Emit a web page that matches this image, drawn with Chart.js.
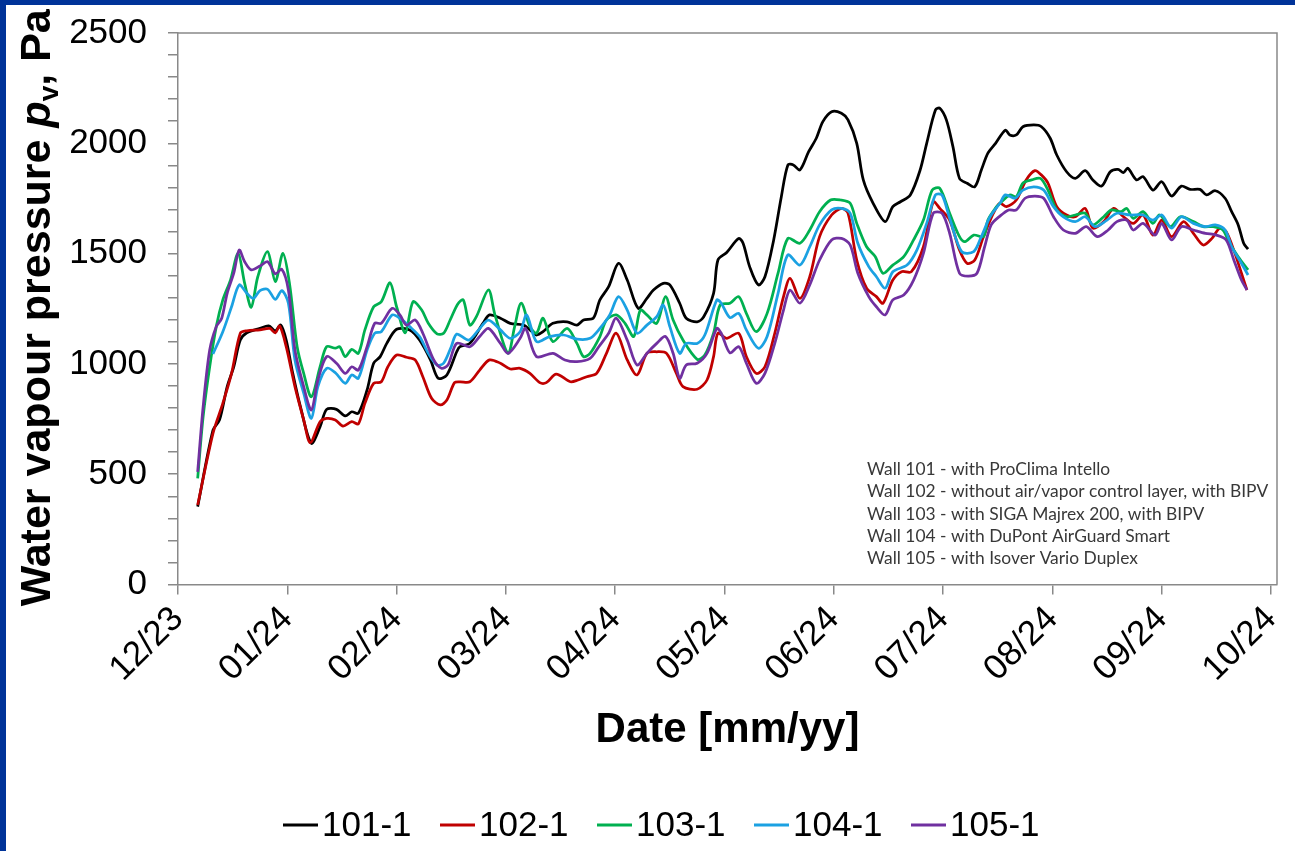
<!DOCTYPE html>
<html>
<head>
<meta charset="utf-8">
<script src="https://cdn.jsdelivr.net/npm/chart.js@4"></script>
<style>
  html, body { margin: 0; padding: 0; background: #fff; }
  #mainchart { display: block; }
</style>
</head>
<body>
<canvas id="mainchart" width="1295" height="851"></canvas>
<script>
// x positions are months since 1 Dec 2023 (the axis has equally spaced month ticks)
const monthLabels = ["12/23", "01/24", "02/24", "03/24", "04/24", "05/24", "06/24", "07/24", "08/24", "09/24", "10/24"];
const yTickLabels = [0, 500, 1000, 1500, 2000, 2500];
const seriesNames = ["101-1", "102-1", "103-1", "104-1", "105-1"];
const seriesColors = ["#000000", "#c00000", "#00b050", "#1ba1e2", "#7030a0"];
const wallNotes = [
  "Wall 101 - with ProClima Intello",
  "Wall 102 - without air/vapor control layer, with BIPV",
  "Wall 103 - with SIGA Majrex 200, with BIPV",
  "Wall 104 - with DuPont AirGuard Smart",
  "Wall 105 - with Isover Vario Duplex",
];

const wall101 = [
  [0.18, 353], [0.32, 700], [0.38, 746], [0.45, 897], [0.51, 987], [0.57, 1108], [0.63, 1141], [0.75, 1161],
  [0.83, 1172], [0.89, 1150], [0.94, 1176], [0.99, 1108], [1.05, 957], [1.12, 806], [1.22, 640], [1.30, 715],
  [1.36, 794], [1.45, 794], [1.53, 764], [1.59, 783], [1.65, 776], [1.73, 882], [1.79, 1003], [1.85, 1033],
  [1.91, 1093], [2.00, 1157], [2.12, 1154], [2.21, 1108], [2.31, 1018], [2.38, 935], [2.46, 950], [2.55, 1055],
  [2.58, 1078], [2.67, 1093], [2.79, 1184], [2.85, 1222], [2.95, 1207], [3.04, 1184], [3.16, 1176], [3.24, 1146],
  [3.28, 1131], [3.34, 1146], [3.43, 1184], [3.56, 1191], [3.65, 1176], [3.71, 1199], [3.80, 1207], [3.86, 1290],
  [3.94, 1350], [4.03, 1456], [4.11, 1380], [4.21, 1252], [4.29, 1297], [4.35, 1335], [4.44, 1365], [4.50, 1358],
  [4.59, 1275], [4.65, 1207], [4.75, 1191], [4.81, 1214], [4.90, 1320], [4.94, 1471], [5.02, 1505], [5.13, 1569],
  [5.17, 1547], [5.23, 1441], [5.31, 1358], [5.37, 1395], [5.45, 1562], [5.52, 1758], [5.58, 1902], [5.63, 1902],
  [5.69, 1879], [5.77, 1962], [5.84, 2023], [5.90, 2098], [5.98, 2143], [6.07, 2136], [6.13, 2106], [6.21, 2000],
  [6.27, 1834], [6.36, 1728], [6.47, 1645], [6.54, 1713], [6.61, 1735], [6.70, 1766], [6.79, 1879], [6.85, 2000],
  [6.93, 2151], [6.97, 2159], [7.03, 2106], [7.09, 1985], [7.15, 1841], [7.22, 1819], [7.29, 1803], [7.35, 1879],
  [7.41, 1955], [7.48, 2000], [7.57, 2060], [7.61, 2038], [7.67, 2038], [7.73, 2075], [7.83, 2083], [7.90, 2075],
  [7.98, 2023], [8.04, 1947], [8.13, 1871], [8.21, 1841], [8.30, 1876], [8.37, 1834], [8.45, 1806], [8.53, 1871],
  [8.60, 1882], [8.65, 1867], [8.69, 1887], [8.77, 1834], [8.83, 1849], [8.92, 1788], [9.00, 1826], [9.09, 1761],
  [9.18, 1806], [9.26, 1791], [9.35, 1791], [9.41, 1766], [9.49, 1785], [9.58, 1751], [9.64, 1690], [9.70, 1630],
  [9.75, 1547], [9.79, 1520],
];
const wall102 = [
  [0.18, 360], [0.32, 685], [0.41, 821], [0.49, 957], [0.57, 1139], [0.63, 1150], [0.75, 1154], [0.84, 1161],
  [0.89, 1141], [0.93, 1172], [0.99, 1078], [1.07, 897], [1.15, 746], [1.21, 643], [1.30, 738], [1.36, 753],
  [1.44, 746], [1.51, 718], [1.59, 738], [1.65, 728], [1.71, 821], [1.79, 912], [1.86, 919], [1.92, 987],
  [2.00, 1040], [2.09, 1030], [2.17, 1018], [2.24, 942], [2.32, 844], [2.40, 814], [2.46, 836], [2.53, 915],
  [2.58, 919], [2.67, 919], [2.76, 972], [2.85, 1018], [2.95, 1003], [3.04, 977], [3.13, 980], [3.22, 957],
  [3.31, 915], [3.37, 915], [3.46, 954], [3.59, 919], [3.66, 927], [3.74, 942], [3.83, 957], [3.92, 1048],
  [4.01, 1139], [4.11, 1018], [4.20, 950], [4.29, 1048], [4.38, 1055], [4.47, 1048], [4.56, 957], [4.62, 897],
  [4.75, 885], [4.84, 927], [4.90, 1033], [4.94, 1139], [5.02, 1116], [5.13, 1139], [5.20, 1033], [5.29, 957],
  [5.37, 987], [5.46, 1139], [5.54, 1305], [5.60, 1388], [5.69, 1297], [5.78, 1395], [5.87, 1577], [5.98, 1675],
  [6.07, 1705], [6.13, 1683], [6.21, 1471], [6.30, 1343], [6.39, 1305], [6.45, 1275], [6.54, 1380], [6.62, 1418],
  [6.71, 1418], [6.82, 1531], [6.91, 1735], [6.97, 1705], [7.06, 1652], [7.15, 1516], [7.22, 1456], [7.29, 1471],
  [7.37, 1577], [7.46, 1683], [7.52, 1728], [7.58, 1713], [7.67, 1743], [7.76, 1834], [7.84, 1876], [7.90, 1856],
  [7.96, 1819], [8.04, 1713], [8.13, 1675], [8.21, 1667], [8.30, 1705], [8.37, 1615], [8.47, 1645], [8.56, 1705],
  [8.65, 1667], [8.74, 1637], [8.83, 1675], [8.92, 1584], [9.00, 1652], [9.09, 1577], [9.20, 1645], [9.29, 1592],
  [9.38, 1539], [9.46, 1569], [9.53, 1615], [9.59, 1599], [9.67, 1501], [9.73, 1411], [9.78, 1335],
];
const wall103 = [
  [0.18, 481], [0.23, 761], [0.29, 987], [0.35, 1169], [0.41, 1290], [0.48, 1380], [0.55, 1501], [0.61, 1365],
  [0.67, 1257], [0.73, 1395], [0.82, 1509], [0.89, 1373], [0.96, 1501], [1.02, 1365], [1.09, 1078], [1.15, 957],
  [1.22, 851], [1.30, 987], [1.36, 1078], [1.44, 1071], [1.48, 1078], [1.53, 1033], [1.59, 1066], [1.65, 1048],
  [1.71, 1154], [1.79, 1259], [1.86, 1282], [1.94, 1368], [2.00, 1259], [2.08, 1141], [2.15, 1282], [2.23, 1244],
  [2.29, 1184], [2.37, 1136], [2.43, 1139], [2.49, 1199], [2.56, 1272], [2.61, 1290], [2.67, 1176], [2.73, 1214],
  [2.84, 1335], [2.90, 1222], [3.02, 1048], [3.08, 1169], [3.14, 1275], [3.22, 1169], [3.28, 1139], [3.34, 1207],
  [3.43, 1101], [3.56, 1161], [3.65, 1093], [3.71, 1033], [3.77, 1048], [3.86, 1124], [3.92, 1199], [4.01, 1222],
  [4.09, 1184], [4.17, 1124], [4.23, 1244], [4.29, 1222], [4.38, 1184], [4.46, 1305], [4.53, 1199], [4.62, 1108],
  [4.75, 1021], [4.82, 1040], [4.90, 1139], [4.96, 1267], [5.05, 1275], [5.13, 1305], [5.20, 1229], [5.29, 1146],
  [5.39, 1229], [5.49, 1411], [5.58, 1569], [5.69, 1547], [5.78, 1607], [5.87, 1690], [5.97, 1743], [6.06, 1743],
  [6.15, 1728], [6.21, 1637], [6.30, 1531], [6.38, 1486], [6.45, 1411], [6.54, 1448], [6.64, 1486], [6.73, 1562],
  [6.82, 1652], [6.90, 1788], [6.97, 1796], [7.06, 1683], [7.15, 1577], [7.20, 1554], [7.28, 1584], [7.37, 1577],
  [7.41, 1652], [7.49, 1713], [7.52, 1728], [7.61, 1766], [7.67, 1758], [7.73, 1819], [7.81, 1834], [7.89, 1841],
  [7.96, 1788], [8.04, 1698], [8.13, 1667], [8.21, 1675], [8.30, 1683], [8.37, 1630], [8.47, 1667], [8.54, 1698],
  [8.63, 1690], [8.68, 1705], [8.74, 1660], [8.83, 1690], [8.92, 1637], [8.98, 1675], [9.08, 1622], [9.17, 1667],
  [9.29, 1645], [9.38, 1622], [9.47, 1622], [9.56, 1607], [9.62, 1547], [9.70, 1486], [9.79, 1426],
];
const wall104 = [
  [0.32, 1045], [0.41, 1146], [0.49, 1259], [0.56, 1358], [0.63, 1320], [0.69, 1297], [0.75, 1332], [0.82, 1338],
  [0.89, 1293], [0.95, 1332], [1.01, 1275], [1.07, 1018], [1.15, 867], [1.22, 753], [1.28, 897], [1.36, 980],
  [1.44, 960], [1.53, 912], [1.59, 950], [1.65, 935], [1.73, 1063], [1.80, 1139], [1.86, 1146], [1.96, 1222],
  [2.03, 1207], [2.12, 1169], [2.21, 1124], [2.29, 1048], [2.37, 995], [2.43, 1003], [2.50, 1078], [2.55, 1135],
  [2.66, 1108], [2.75, 1154], [2.84, 1199], [2.95, 1154], [3.04, 1116], [3.13, 1146], [3.19, 1222], [3.28, 1101],
  [3.40, 1124], [3.53, 1131], [3.65, 1112], [3.77, 1116], [3.86, 1161], [3.95, 1222], [4.03, 1305], [4.11, 1244],
  [4.20, 1139], [4.29, 1176], [4.38, 1214], [4.44, 1267], [4.50, 1169], [4.59, 1048], [4.65, 1093], [4.75, 1093],
  [4.82, 1131], [4.93, 1290], [4.97, 1275], [5.05, 1210], [5.13, 1229], [5.20, 1154], [5.31, 1071], [5.39, 1124],
  [5.49, 1320], [5.58, 1494], [5.69, 1448], [5.78, 1531], [5.87, 1630], [5.98, 1698], [6.07, 1705], [6.15, 1683],
  [6.22, 1547], [6.32, 1441], [6.39, 1395], [6.47, 1343], [6.54, 1418], [6.67, 1448], [6.76, 1516], [6.85, 1637],
  [6.93, 1766], [6.99, 1766], [7.06, 1660], [7.17, 1509], [7.28, 1509], [7.35, 1577], [7.43, 1667], [7.52, 1728],
  [7.57, 1766], [7.66, 1751], [7.73, 1788], [7.83, 1803], [7.92, 1788], [8.01, 1713], [8.10, 1667], [8.21, 1645],
  [8.30, 1667], [8.39, 1622], [8.50, 1652], [8.59, 1683], [8.71, 1675], [8.83, 1675], [8.92, 1652], [9.00, 1675],
  [9.09, 1615], [9.18, 1667], [9.29, 1637], [9.40, 1622], [9.49, 1630], [9.58, 1607], [9.64, 1531], [9.72, 1464],
  [9.79, 1403],
];
const wall105 = [
  [0.18, 511], [0.23, 806], [0.29, 1063], [0.35, 1169], [0.40, 1207], [0.45, 1320], [0.51, 1411], [0.56, 1516],
  [0.61, 1463], [0.67, 1426], [0.75, 1444], [0.82, 1463], [0.89, 1408], [0.95, 1429], [1.01, 1335], [1.07, 1063],
  [1.15, 897], [1.22, 791], [1.28, 927], [1.36, 1033], [1.45, 1003], [1.53, 957], [1.59, 987], [1.65, 972],
  [1.73, 1078], [1.80, 1184], [1.86, 1184], [1.96, 1252], [2.03, 1222], [2.09, 1176], [2.17, 1199], [2.24, 1139],
  [2.34, 1018], [2.41, 980], [2.47, 995], [2.55, 1093], [2.67, 1078], [2.76, 1124], [2.84, 1161], [2.95, 1093],
  [3.02, 1048], [3.13, 1116], [3.18, 1161], [3.28, 1033], [3.43, 1048], [3.54, 1018], [3.65, 1010], [3.77, 1025],
  [3.85, 1078], [3.94, 1139], [4.01, 1207], [4.11, 1108], [4.20, 995], [4.29, 1048], [4.38, 1093], [4.46, 1124],
  [4.53, 1048], [4.59, 935], [4.65, 995], [4.75, 1003], [4.84, 1048], [4.93, 1161], [4.97, 1139], [5.05, 1050],
  [5.13, 1078], [5.20, 1003], [5.29, 912], [5.37, 957], [5.46, 1093], [5.54, 1244], [5.60, 1335], [5.69, 1275],
  [5.78, 1358], [5.87, 1471], [5.98, 1562], [6.07, 1569], [6.15, 1539], [6.22, 1411], [6.32, 1305], [6.39, 1259],
  [6.47, 1222], [6.54, 1290], [6.64, 1312], [6.73, 1380], [6.82, 1501], [6.91, 1683], [6.99, 1683], [7.06, 1592],
  [7.15, 1411], [7.23, 1398], [7.31, 1411], [7.38, 1531], [7.44, 1630], [7.52, 1670], [7.60, 1698], [7.67, 1698],
  [7.75, 1751], [7.84, 1761], [7.92, 1751], [8.01, 1667], [8.10, 1607], [8.21, 1592], [8.31, 1622], [8.41, 1577],
  [8.51, 1607], [8.59, 1645], [8.68, 1652], [8.74, 1607], [8.83, 1637], [8.94, 1584], [9.00, 1637], [9.09, 1562],
  [9.18, 1622], [9.29, 1607], [9.40, 1592], [9.50, 1584], [9.59, 1562], [9.66, 1471], [9.73, 1380], [9.78, 1335],
];
const seriesData = [wall101, wall102, wall103, wall104, wall105];

const ctx = document.getElementById("mainchart").getContext("2d");
const fontFamily = "'Liberation Sans', Arial, sans-serif";
const axisColor = "#898989";
const frameColor = "#003399";

function drawYTitle(c, x, y) {
  // rotated title with italic p and subscript v
  const parts = [
    { text: "Water vapour pressure ", font: "bold 43px " + fontFamily, dy: 0 },
    { text: "p", font: "italic bold 43px " + fontFamily, dy: 0 },
    { text: "v", font: "bold 28px " + fontFamily, dy: 8 },
    { text: ", Pa", font: "bold 43px " + fontFamily, dy: 0 },
  ];
  let total = 0;
  parts.forEach((p) => {
    c.font = p.font;
    p.width = c.measureText(p.text).width;
    total += p.width;
  });
  c.save();
  c.translate(x, y);
  c.rotate(-Math.PI / 2);
  c.textAlign = "left";
  c.textBaseline = "alphabetic";
  c.fillStyle = "#000";
  let pos = -total / 2;
  parts.forEach((p) => {
    c.font = p.font;
    c.fillText(p.text, pos, p.dy);
    pos += p.width;
  });
  c.restore();
}

const decorPlugin = {
  id: "decor",
  beforeDraw(chart) {
    const c = chart.ctx;
    c.save();
    c.fillStyle = "#ffffff";
    c.fillRect(0, 0, chart.width, chart.height);
    c.fillStyle = frameColor;
    c.fillRect(0, 0, chart.width, 5);
    c.fillRect(0, 0, 6, chart.height);
    c.restore();
  },
  afterDraw(chart) {
    const c = chart.ctx;
    const a = chart.chartArea;
    c.save();
    c.strokeStyle = axisColor;
    c.lineWidth = 1.5;
    c.beginPath();
    c.moveTo(a.left, a.top);
    c.lineTo(a.right, a.top);
    c.lineTo(a.right, a.bottom);
    c.stroke();

    c.fillStyle = "#000";
    c.font = "bold 42px " + fontFamily;
    c.textAlign = "center";
    c.textBaseline = "alphabetic";
    c.fillText("Date [mm/yy]", (a.left + a.right) / 2, 742);

    drawYTitle(c, 50, (a.top + a.bottom) / 2 - 1);

    c.font = "17.4px Lato, 'Open Sans', sans-serif";
    c.fillStyle = "#383838";
    c.textAlign = "left";
    wallNotes.forEach((t, i) => c.fillText(t, 867, 475 + i * 22.3));

    // legend row under the axis title
    c.font = "35px " + fontFamily;
    c.textBaseline = "middle";
    chart.data.datasets.forEach((ds, i) => {
      const lx = 283 + i * 157;
      c.strokeStyle = ds.borderColor;
      c.lineWidth = 3;
      c.beginPath();
      c.moveTo(lx, 825);
      c.lineTo(lx + 35, 825);
      c.stroke();
      c.fillStyle = "#000";
      c.fillText(ds.label, lx + 39, 826);
    });
    c.restore();
  },
};

const mainchart = new Chart(ctx, {
  type: "line",
  data: {
    datasets: seriesData.map((pairs, i) => ({
      label: seriesNames[i],
      data: pairs.map(([x, y]) => ({ x, y })),
      borderColor: seriesColors[i],
      backgroundColor: seriesColors[i],
      borderWidth: 2.75,
      pointRadius: 0,
      tension: 0.3,
      order: seriesData.length - i,
    })),
  },
  options: {
    responsive: false,
    animation: false,
    events: [],
    layout: { padding: { left: 0, top: 33, right: 18, bottom: 0 } },
    plugins: { legend: { display: false }, tooltip: { enabled: false } },
    scales: {
      x: {
        type: "linear",
        min: 0,
        max: 10.055,
        afterBuildTicks: (scale) => {
          scale.ticks = monthLabels.map((_, i) => ({ value: i }));
        },
        afterFit: (scale) => {
          scale.height = 266.5;
          scale.paddingLeft = 0;
          scale.paddingRight = 0;
        },
        ticks: {
          autoSkip: false,
          minRotation: 45,
          maxRotation: 45,
          padding: 4,
          color: "#000",
          font: { family: fontFamily, size: 35 },
          callback: (value) => monthLabels[value],
        },
        grid: { drawOnChartArea: false, tickLength: 10, color: axisColor, lineWidth: 1.5 },
        border: { color: axisColor, width: 1.5 },
      },
      y: {
        min: 0,
        max: 2500,
        afterBuildTicks: (scale) => {
          const ticks = [];
          for (let v = 0; v <= 2500; v += 100) ticks.push({ value: v });
          scale.ticks = ticks;
        },
        afterFit: (scale) => {
          scale.width = 178;
          scale.paddingTop = 0;
          scale.paddingBottom = 0;
        },
        ticks: {
          autoSkip: false,
          padding: 21,
          color: "#000",
          font: { family: fontFamily, size: 35 },
          callback: (value) => (yTickLabels.includes(value) ? String(value) : ""),
        },
        grid: { drawOnChartArea: false, tickLength: 10, color: axisColor, lineWidth: 1.5 },
        border: { color: axisColor, width: 1.5 },
      },
    },
  },
  plugins: [decorPlugin],
});
</script>
</body>
</html>
